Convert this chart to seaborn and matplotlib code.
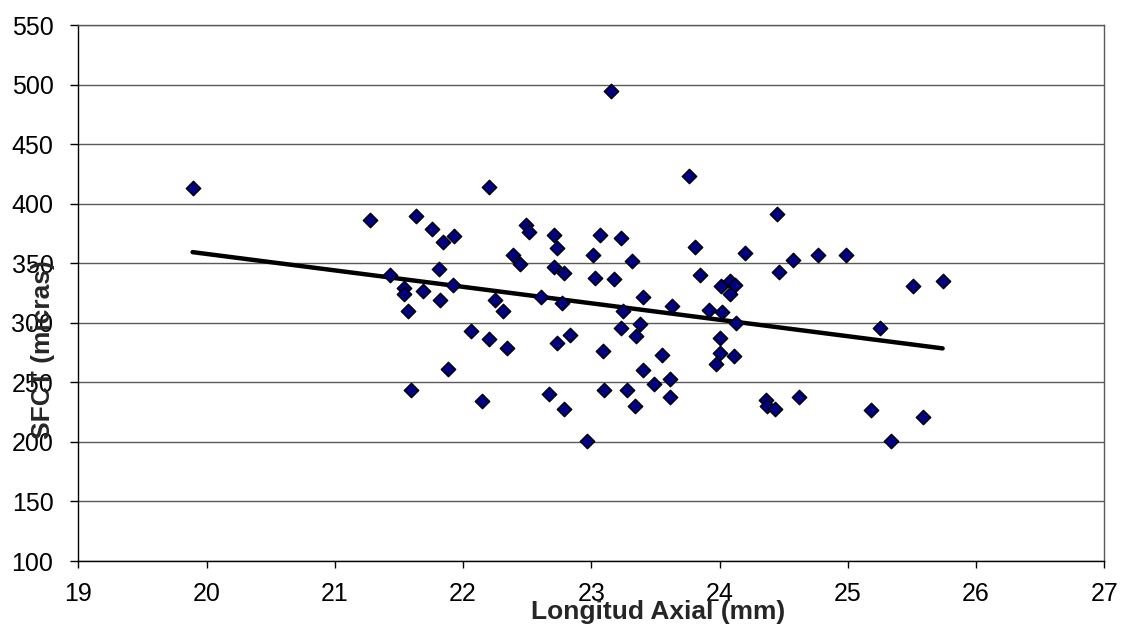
import numpy as np
import pandas as pd
import matplotlib
matplotlib.use("Agg")
import matplotlib.pyplot as plt
import seaborn as sns

# axial length (mm) and SFCT (micras)
longitud_axial = [
    19.89, 21.27, 21.63, 21.76, 21.84, 21.93, 22.20, 21.81, 21.43, 21.54,
    21.54, 21.69, 21.92, 21.82, 21.57, 22.06, 22.20, 21.88, 21.59, 22.15,
    23.15, 23.76, 24.45, 22.49, 22.51, 22.71, 23.07, 23.23, 22.73, 23.81,
    22.39, 22.44, 23.01, 23.32, 24.20, 24.57, 24.77, 22.71, 22.79, 23.03,
    23.18, 23.85, 24.46, 24.01, 24.08, 24.12, 24.08, 22.25, 22.31, 22.61,
    22.77, 23.40, 23.63, 23.92, 24.02, 24.13, 23.25, 22.34, 22.73, 22.83,
    23.23, 23.38, 23.35, 23.09, 23.55, 24.00, 24.00, 23.97, 24.11, 23.40,
    23.49, 23.61, 23.61, 23.10, 23.28, 23.34, 22.67, 22.79, 22.97, 24.36,
    24.37, 24.43, 24.62, 24.99, 25.51, 25.74, 25.25, 25.18, 25.59, 25.34,
]
sfct = [
    413, 386, 390, 379, 368, 373, 414, 345, 340, 329,
    324, 327, 332, 319, 310, 293, 286, 261, 244, 234,
    495, 423, 391, 382, 376, 374, 374, 371, 363, 364,
    357, 349, 357, 352, 359, 353, 357, 347, 342, 338,
    337, 340, 343, 331, 335, 332, 324, 319, 310, 322,
    317, 322, 314, 311, 309, 300, 310, 279, 283, 290,
    296, 299, 289, 276, 273, 287, 275, 265, 272, 260,
    249, 253, 238, 244, 244, 230, 240, 228, 201, 235,
    230, 228, 238, 357, 331, 335, 296, 227, 221, 201,
]

x_ticks = list(range(19, 28))
y_ticks = list(range(100, 551, 50))

df = pd.DataFrame({"x": longitud_axial, "y": sfct})

sns.set_style("white")
plt.rcParams["font.family"] = ["Liberation Sans", "DejaVu Sans"]

fig = plt.figure(figsize=(11.21, 6.26), dpi=100)
ax = fig.add_axes([0.070, 0.1038, 0.915, 0.8562])

# horizontal grid only, drawn under the marks
ax.set_axisbelow(True)
ax.yaxis.grid(True, color="#5a5a5a", linewidth=1.0)
ax.xaxis.grid(False)

sns.regplot(data=df, x="x", y="y", ax=ax, ci=None, marker="D",
            scatter_kws={"s": 54, "color": "#000080", "edgecolors": "black",
                         "linewidths": 1.0, "alpha": 1, "zorder": 3},
            line_kws={"color": "black", "linewidth": 3.2, "zorder": 2})

ax.set_xlim(19, 27)
ax.set_ylim(100, 550)
ax.set_xticks(x_ticks)
ax.set_yticks(y_ticks)

for side in ["left", "bottom"]:
    ax.spines[side].set_color("black")
    ax.spines[side].set_linewidth(1.0)
for side in ["top", "right"]:
    ax.spines[side].set_color("#5a5a5a")
    ax.spines[side].set_linewidth(1.0)

ax.tick_params(axis="both", direction="out", labelsize=18, color="black",
               labelcolor="black", width=1.0)
ax.tick_params(axis="x", length=5, pad=10, bottom=True)
ax.tick_params(axis="y", length=6, pad=12, left=True)

ax.set_xlabel("Longitud Axial (mm)", fontsize=19, fontweight="bold")
ax.set_ylabel("SFCT (micras)", fontsize=19, fontweight="bold")
ax.xaxis.set_label_coords(0.565, -0.095)
ax.xaxis.label.set_va("center")
ax.yaxis.set_label_coords(-0.0346, 0.394)
ax.yaxis.label.set_va("center")

plt.savefig("out.png", dpi=100)
plt.close()
